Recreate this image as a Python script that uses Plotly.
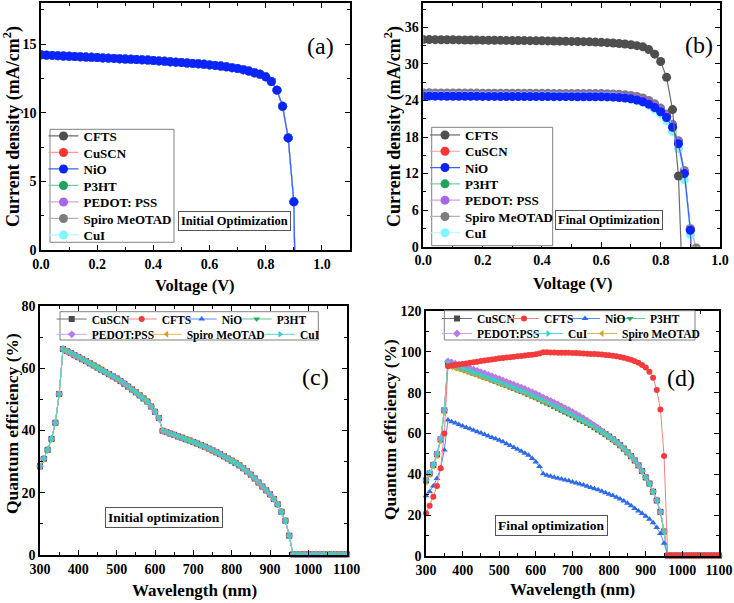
import plotly.graph_objects as go

W, H = 734, 603
SERIF = "Liberation Serif"

# ---------------- data ----------------
# (a) J-V, initial optimization (all HTLs overlap)
volt_a = [0.00, 0.02, 0.04, 0.06, 0.08, 0.10, 0.12, 0.14, 0.16, 0.18, 0.20, 0.22, 0.24, 0.26, 0.28,
          0.30, 0.32, 0.34, 0.36, 0.38, 0.40, 0.42, 0.44, 0.46, 0.48, 0.50, 0.52, 0.54, 0.56, 0.58,
          0.60, 0.62, 0.64, 0.66, 0.68, 0.70, 0.72, 0.74, 0.76, 0.78, 0.80, 0.82, 0.84, 0.86, 0.88,
          0.90, 0.92]
j_a = [14.22, 14.20, 14.18, 14.16, 14.14, 14.12, 14.10, 14.08, 14.06, 14.04, 14.02, 14.00, 13.98, 13.96, 13.94,
       13.92, 13.90, 13.88, 13.86, 13.84, 13.81, 13.78, 13.75, 13.72, 13.69, 13.66, 13.63, 13.60, 13.57, 13.53,
       13.49, 13.45, 13.40, 13.35, 13.29, 13.22, 13.14, 13.04, 12.92, 12.80, 12.62, 12.28, 11.65, 10.47, 8.17,
       3.51, -20.0]

# (b) J-V, final optimization
volt_b = volt_a
j_b_cfts = [34.00, 33.99, 33.98, 33.97, 33.96, 33.95, 33.94, 33.93, 33.92, 33.91, 33.90, 33.89, 33.88, 33.87, 33.86,
            33.85, 33.84, 33.83, 33.82, 33.81, 33.80, 33.78, 33.76, 33.74, 33.72, 33.70, 33.68, 33.65, 33.62, 33.58,
            33.54, 33.49, 33.43, 33.36, 33.27, 33.15, 33.00, 32.80, 32.35, 31.60, 30.40, 27.80, 22.50, 11.60, -15.0,
            -40.0, -60.0]
j_b_spiro = [25.25, 25.25, 25.24, 25.24, 25.23, 25.23, 25.22, 25.22, 25.21, 25.21, 25.20, 25.20, 25.20, 25.19, 25.19,
             25.19, 25.18, 25.18, 25.18, 25.17, 25.17, 25.17, 25.16, 25.16, 25.16, 25.16, 25.15, 25.15, 25.15, 25.15,
             25.15, 25.12, 25.08, 25.02, 24.94, 24.82, 24.65, 24.40, 24.00, 23.45, 22.75, 21.80, 20.10, 17.40, 12.50,
             3.00, -0.20]
j_b_mid = [24.95, 24.95, 24.94, 24.94, 24.93, 24.93, 24.92, 24.92, 24.91, 24.91, 24.90, 24.90, 24.90, 24.89, 24.89,
           24.89, 24.88, 24.88, 24.88, 24.87, 24.87, 24.87, 24.86, 24.86, 24.86, 24.86, 24.85, 24.85, 24.85, 24.85,
           24.85, 24.82, 24.78, 24.72, 24.63, 24.50, 24.32, 24.05, 23.60, 23.05, 22.35, 21.40, 19.80, 17.10, 12.20,
           2.80, -25.0]
j_b_nio = [24.72, 24.72, 24.71, 24.71, 24.70, 24.70, 24.69, 24.69, 24.68, 24.68, 24.67, 24.67, 24.67, 24.66, 24.66,
           24.66, 24.65, 24.65, 24.65, 24.64, 24.64, 24.64, 24.63, 24.63, 24.63, 24.63, 24.62, 24.62, 24.62, 24.62,
           24.62, 24.59, 24.55, 24.49, 24.40, 24.27, 24.08, 23.80, 23.40, 22.85, 22.15, 21.20, 19.60, 16.90, 12.00,
           2.70, -25.0]
j_b_cui = [24.80, 24.80, 24.79, 24.79, 24.78, 24.78, 24.77, 24.77, 24.76, 24.76, 24.75, 24.75, 24.75, 24.74, 24.74,
           24.74, 24.73, 24.73, 24.73, 24.72, 24.72, 24.72, 24.71, 24.71, 24.71, 24.71, 24.70, 24.70, 24.70, 24.70,
           24.70, 24.66, 24.60, 24.52, 24.40, 24.22, 23.98, 23.65, 23.20, 22.55, 21.80, 20.70, 18.90, 16.10, 11.00,
           2.00, -25.0]

# (c)/(d) quantum efficiency
wl = [300, 310, 320, 330, 340, 350, 360, 370, 380, 390, 400, 410, 420, 430, 440, 450, 460, 470, 480, 490,
      500, 510, 520, 530, 540, 550, 560, 570, 580, 590, 600, 610, 620, 630, 640, 650, 660, 670, 680, 690,
      700, 710, 720, 730, 740, 750, 760, 770, 780, 790, 800, 810, 820, 830, 840, 850, 860, 870, 880, 890,
      900, 910, 920, 930, 940, 950, 960, 970, 980, 990, 1000, 1010, 1020, 1030, 1040, 1050, 1060, 1070, 1080,
      1090, 1100]
qe_c = [28.5, 30.9, 33.8, 37.3, 42.5, 51.7, 66.2, 65.5, 64.9, 64.2, 63.6, 62.9, 62.3, 61.6, 60.9, 60.2, 59.5, 58.8, 58.1, 57.4,
        56.7, 55.9, 55.0, 54.1, 53.2, 52.3, 51.3, 50.3, 49.3, 47.7, 46.0, 44.0, 39.9, 39.5, 39.0, 38.6, 38.1, 37.7, 37.2, 36.8,
        36.3, 35.8, 35.3, 34.8, 34.2, 33.6, 33.0, 32.4, 31.7, 31.0, 30.3, 29.6, 28.8, 27.9, 26.9, 25.8, 24.6, 23.3, 22.0, 20.8,
        19.5, 18.0, 16.3, 13.9, 11.0, 6.2, 0.2, 0.2, 0.2, 0.2, 0.2, 0.2, 0.2, 0.2, 0.2, 0.2, 0.2, 0.2, 0.2,
        0.2, 0.2]
qe_d_nio = [29.5, 31.5, 34.3, 38.0, 43.0, 51.9, 66.6, 65.8, 65.1, 64.4, 63.7, 63.0, 62.3, 61.6, 60.9, 60.2, 59.5, 58.8, 58.1, 57.4,
            56.7, 55.9, 55.0, 54.1, 53.2, 52.3, 51.3, 50.3, 49.3, 47.7, 46.0, 43.8, 40.3, 39.6, 39.1, 38.6, 38.1, 37.7, 37.2, 36.8,
            36.3, 35.8, 35.3, 34.8, 34.2, 33.6, 33.0, 32.4, 31.7, 31.0, 30.3, 29.6, 28.8, 27.9, 26.9, 25.8, 24.6, 23.3, 22.0, 20.8,
            19.5, 18.0, 16.3, 13.9, 11.0, 6.2, 0.2, 0.2, 0.2, 0.2, 0.2, 0.2, 0.2, 0.2, 0.2, 0.2, 0.2, 0.2, 0.2,
            0.2, 0.2]
qe_d_cfts = [20.9, 24.6, 29.0, 34.3, 43.0, 60.0, 93.0, 93.3, 93.6, 93.8, 94.0, 94.3, 94.6, 94.9, 95.2, 95.5, 95.8, 96.0, 96.3, 96.5,
             96.8, 97.0, 97.2, 97.4, 97.6, 97.8, 98.0, 98.2, 98.4, 98.6, 98.8, 99.2, 99.8, 99.8, 99.7, 99.7, 99.6, 99.6, 99.5, 99.5,
             99.4, 99.4, 99.3, 99.2, 99.1, 99.0, 98.9, 98.8, 98.7, 98.5, 98.3, 98.1, 97.8, 97.5, 97.1, 96.6, 96.1, 95.4, 94.6, 93.6,
             92.3, 90.3, 87.3, 81.3, 71.8, 49.0, 0.2, 0.2, 0.2, 0.2, 0.2, 0.2, 0.2, 0.2, 0.2, 0.2, 0.2, 0.2, 0.2,
             0.2, 0.2]
qe_d_base = [37.0, 40.4, 44.6, 49.8, 57.1, 71.3, 94.6, 93.8, 93.1, 92.4, 91.8, 91.1, 90.5, 89.8, 89.2, 88.5, 87.8, 87.2, 86.5, 85.8,
             85.1, 84.4, 83.7, 83.0, 82.3, 81.6, 80.9, 80.2, 79.4, 78.6, 77.8, 77.0, 76.0, 75.2, 74.4, 73.5, 72.6, 71.7, 70.8, 69.9,
             69.0, 68.0, 67.0, 66.1, 65.2, 64.2, 63.1, 62.0, 60.9, 59.7, 58.5, 57.2, 55.8, 54.3, 52.6, 50.8, 48.9, 46.8, 44.4, 41.6,
             38.5, 35.5, 31.5, 27.2, 21.6, 12.0, 0.2, 0.2, 0.2, 0.2, 0.2, 0.2, 0.2, 0.2, 0.2, 0.2, 0.2, 0.2, 0.2,
             0.2, 0.2]
qe_d_pedot = [37.2, 40.6, 44.8, 50.0, 57.3, 71.5, 95.3, 94.8, 94.2, 93.6, 93.1, 92.5, 91.9, 91.3, 90.7, 90.0, 89.4, 88.7, 88.1, 87.4,
              86.7, 86.0, 85.3, 84.6, 83.9, 83.2, 82.5, 81.8, 81.0, 80.2, 79.4, 78.6, 77.6, 76.8, 76.0, 75.1, 74.2, 73.3, 72.4, 71.5,
              70.5, 69.5, 68.5, 67.4, 66.3, 65.1, 63.9, 62.6, 61.2, 59.8, 58.5, 57.2, 55.8, 54.3, 52.6, 50.8, 48.9, 46.8, 44.4, 41.6,
              38.5, 35.5, 31.5, 27.2, 21.6, 12.0, 0.2, 0.2, 0.2, 0.2, 0.2, 0.2, 0.2, 0.2, 0.2, 0.2, 0.2, 0.2, 0.2,
              0.2, 0.2]
qe_d_spiro = [36.2, 39.7, 43.9, 49.0, 56.4, 70.4, 93.2, 92.6, 92.0, 91.4, 90.8, 90.2, 89.6, 89.0, 88.4, 87.8, 87.1, 86.5, 85.9, 85.2,
              84.6, 83.9, 83.3, 82.6, 81.9, 81.2, 80.5, 79.8, 79.0, 78.2, 77.4, 76.6, 75.6, 75.0, 74.2, 73.3, 72.4, 71.5, 70.6, 69.7,
              68.8, 67.8, 66.8, 65.9, 65.0, 64.0, 62.9, 61.8, 60.7, 59.5, 58.3, 57.0, 55.6, 54.1, 52.4, 50.6, 48.7, 46.6, 44.2, 41.4,
              38.3, 35.3, 31.3, 27.0, 21.4, 11.8, 0.2, 0.2, 0.2, 0.2, 0.2, 0.2, 0.2, 0.2, 0.2, 0.2, 0.2, 0.2, 0.2,
              0.2, 0.2]

names_ab = ["CFTS", "CuSCN", "NiO", "P3HT", "PEDOT: PSS", "Spiro MeOTAD", "CuI"]
names_c = ["CuSCN", "CFTS", "NiO", "P3HT", "PEDOT:PSS", "Spiro MeOTAD", "CuI"]
names_d = ["CuSCN", "CFTS", "NiO", "P3HT", "PEDOT:PSS", "CuI", "Spiro MeOTAD"]

# ---------------- styles ----------------
AB_STYLE = {
    "CFTS": ("#4f4f4f", "#6a6a6a"),
    "CuSCN": ("#ff3434", "#ff9a9a"),
    "NiO": ("#0b24fb", "#3d60ff"),
    "P3HT": ("#1fa35a", "#7acda0"),
    "PEDOT: PSS": ("#a965e8", "#cba3f2"),
    "Spiro MeOTAD": ("#7d7d7d", "#b3b3b3"),
    "CuI": ("#80f6ff", "#b8fbff"),
}
CD_STYLE = {
    "CuSCN": ("#4a4a4a", "#707070", "square"),
    "CFTS": ("#f23b3b", "#f58080", "circle"),
    "NiO": ("#2e6be6", "#5a8cee", "triangle-up"),
    "P3HT": ("#2aa866", "#5cc690", "triangle-down"),
    "PEDOT:PSS": ("#b77be9", "#cda2f2", "diamond"),
    "Spiro MeOTAD": ("#d9a01a", "#e4b850", "triangle-left"),
    "CuI": ("#36cfcf", "#55dada", "triangle-right"),
}

fig = go.Figure()
legends = {}
counter = [0]


def new_legend(text_x, yc, size):
    counter[0] += 1
    key = "legend" if counter[0] == 1 else "legend%d" % counter[0]
    legends[key] = dict(x=(text_x - 40) / W, y=1 - yc / H, xanchor="left", yanchor="middle",
                        bgcolor="rgba(0,0,0,0)", borderwidth=0, orientation="v", itemwidth=30,
                        font=dict(family=SERIF, size=size, color="black", weight="bold"))
    return key


def add(xs, ys, name, xa, ya, mcol, lcol, sym, msize, lw, legend, clip):
    fig.add_trace(go.Scatter(x=xs, y=ys, name=name, mode="lines+markers", xaxis=xa, yaxis=ya,
                             line=dict(color=lcol, width=lw),
                             marker=dict(color=mcol, symbol=sym, size=msize, line=dict(width=0)),
                             legend=legend, showlegend=True, cliponaxis=clip))


# legend positions (text start x, centre y) in px
leg_a = {n: (83.5, 136 + 16.5 * i) for i, n in enumerate(names_ab)}
leg_b = {n: (465, 135 + 16.3 * i) for i, n in enumerate(names_ab)}
leg_c = {"CuSCN": (91.7, 319), "CFTS": (161.7, 319), "NiO": (221.7, 319), "P3HT": (276.7, 319),
         "PEDOT:PSS": (91.7, 334.3), "Spiro MeOTAD": (186.7, 334.3), "CuI": (300, 334.3)}
leg_d = {"CuSCN": (477, 318.5), "CFTS": (544, 318.5), "NiO": (605, 318.5), "P3HT": (650, 318.5),
         "PEDOT:PSS": (477, 333.5), "CuI": (568, 333.5), "Spiro MeOTAD": (622, 333.5)}

# (a)
for n in ["CFTS", "CuSCN", "P3HT", "PEDOT: PSS", "Spiro MeOTAD", "CuI", "NiO"]:
    mc, lc = AB_STYLE[n]
    add(volt_a, j_a, n, "x", "y", mc, lc, "circle", 9, 1.2, new_legend(*leg_a[n], 13), True)

# (b)
b_data = {"Spiro MeOTAD": j_b_spiro, "CuSCN": j_b_mid, "P3HT": j_b_mid, "PEDOT: PSS": j_b_mid,
          "CuI": j_b_cui, "NiO": j_b_nio, "CFTS": j_b_cfts}
for n, ys in b_data.items():
    mc, lc = AB_STYLE[n]
    add(volt_b, ys, n, "x2", "y2", mc, lc, "circle", 9, 1.2, new_legend(*leg_b[n], 13), True)

# (c)
for n in names_c:
    mc, lc, sym = CD_STYLE[n]
    add(wl, qe_c, n, "x3", "y3", mc, lc, sym, 6, 1.0, new_legend(*leg_c[n], 11.5), False)

# (d)
d_data = {"CuSCN": qe_d_base, "P3HT": qe_d_base, "PEDOT:PSS": qe_d_pedot, "Spiro MeOTAD": qe_d_spiro,
          "CuI": qe_d_base, "NiO": qe_d_nio, "CFTS": qe_d_cfts}
for n, ys in d_data.items():
    mc, lc, sym = CD_STYLE[n]
    add(wl, ys, n, "x4", "y4", mc, lc, sym, 6, 1.0, new_legend(*leg_d[n], 11.5), False)

# ---------------- axes ----------------
tickfont = dict(family=SERIF, size=14, color="black", weight="bold")


def axis(domain, rng, dtick, minor_dtick, anchor, fmt=None):
    d = dict(domain=domain, range=rng, dtick=dtick, tick0=0, anchor=anchor, automargin=False,
             showline=True, linecolor="black", linewidth=1.5, mirror="allticks",
             ticks="inside", ticklen=5, tickwidth=1.3, tickcolor="black",
             showgrid=False, zeroline=False, tickfont=tickfont,
             minor=dict(ticks="inside", ticklen=3, tickwidth=1.1, tickcolor="black",
                        dtick=minor_dtick, showgrid=False))
    if fmt:
        d["tickformat"] = fmt
    return d


def xd(a, b):
    return [a / W, b / W]


def yd(top, bottom):
    return [1 - bottom / H, 1 - top / H]


layout_axes = dict(
    xaxis=axis(xd(41, 350), [0, 1.1], 0.2, 0.1, "y", ".1f"),
    yaxis=axis(yd(3, 250), [0, 18], 5, 2.5, "x"),
    xaxis2=axis(xd(423.3, 720), [0, 1.0], 0.2, 0.1, "y2", ".1f"),
    yaxis2=axis(yd(3, 246.7), [0, 40], 6, 3, "x2"),
    xaxis3=axis(xd(40, 346.7), [300, 1100], 100, 50, "y3"),
    yaxis3=axis(yd(306, 555), [0, 80], 20, 10, "x3"),
    xaxis4=axis(xd(426, 719), [300, 1100], 100, 50, "y4"),
    yaxis4=axis(yd(311, 556), [0, 120], 20, 10, "x4"),
)

# ---------------- annotations ----------------
ann = []


def text(x, y, s, size, bold=True, angle=0, box=False):
    ann.append(dict(x=x / W, y=1 - y / H, xref="paper", yref="paper", text=s, showarrow=False,
                    xanchor="center", yanchor="middle", textangle=angle,
                    font=dict(family=SERIF, size=size, color="black", weight="bold" if bold else "normal"),
                    bordercolor="#555555" if box else "rgba(0,0,0,0)", borderwidth=1 if box else 0,
                    borderpad=2 if box else 0, bgcolor="white" if box else "rgba(0,0,0,0)"))


text(320, 46, "(a)", 24, bold=False)
text(698.5, 45, "(b)", 24, bold=False)
text(315, 377, "(c)", 24, bold=False)
text(681, 378, "(d)", 24, bold=False)
text(234.2, 220.7, "Initial Optimization", 12.5, box=True)
text(608.5, 220, "Final Optimization", 12.5, box=True)
text(164.3, 517.5, "Initial optimization", 13.5, box=True)
text(551, 525, "Final optimization", 13.5, box=True)
text(12, 127, "Current density (mA/cm<sup>2</sup>)", 18, angle=-90)
text(393, 127, "Current density (mA/cm<sup>2</sup>)", 18, angle=-90)
text(12, 424, "Quantum efficiency (%)", 17.5, angle=-90)
text(390, 430, "Quantum efficiency (%)", 17.5, angle=-90)
text(195, 285, "Voltage (V)", 16.5)
text(573, 283, "Voltage (V)", 16.5)
text(194, 590, "Wavelength (nm)", 17)
text(572.5, 589, "Wavelength (nm)", 17)

# legend frames
shapes = []
for (x0, y0, x1, y1) in [(50, 129.3, 174, 242.3), (431.7, 127.3, 552.7, 245.7),
                         (60, 311.7, 318.3, 340), (444.3, 310.7, 695, 340)]:
    shapes.append(dict(type="rect", xref="paper", yref="paper", x0=x0 / W, x1=x1 / W,
                       y0=1 - y1 / H, y1=1 - y0 / H, line=dict(color="#808080", width=1),
                       fillcolor="white", layer="above"))

fig.update_layout(template="none", width=W, height=H, margin=dict(l=0, r=0, t=0, b=0, pad=0),
                  paper_bgcolor="white", plot_bgcolor="white",
                  annotations=ann, shapes=shapes, **layout_axes, **legends)

fig.write_html("out.html", config={"displayModeBar": False},
               post_script="document.body.style.margin='0px';document.body.style.overflow='hidden';")
